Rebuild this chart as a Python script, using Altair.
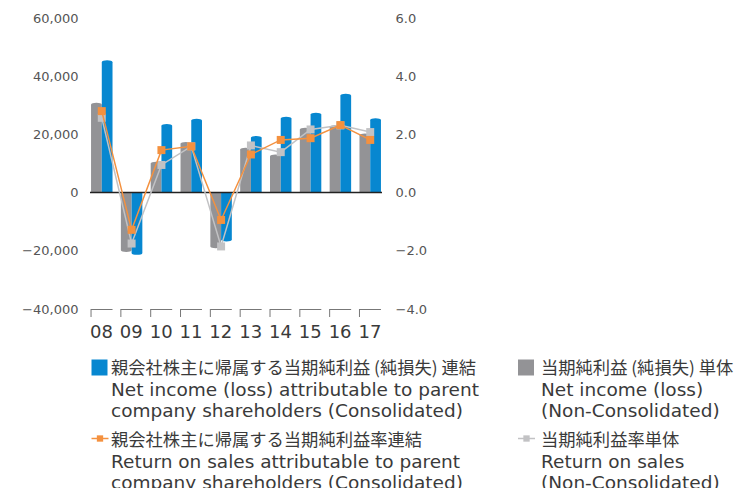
import altair as alt
import pandas as pd

# ---- data ----
years = ["08", "09", "10", "11", "12", "13", "14", "15", "16", "17"]
consolidated_income = [44900, -20800, 23000, 24800, -16200, 18900, 25500, 26900, 33400, 25000]
nonconsolidated_income = [30300, -19800, 10050, 16800, -18500, 14850, 12550, 21700, 22600, 19750]
consolidated_ros = [2.80, -1.28, 1.46, 1.59, -0.94, 1.31, 1.81, 1.87, 2.32, 1.81]
nonconsolidated_ros = [2.57, -1.75, 0.95, 1.59, -1.85, 1.62, 1.39, 2.17, 2.31, 2.08]
left_ticks = [-40000, -20000, 0, 20000, 40000, 60000]
right_ticks = [-4, -2, 0, 2, 4, 6]
series_bar = ["Non-Consolidated", "Consolidated"]

legend_jp = [
    "親会社株主に帰属する当期純利益 (純損失) 連結",
    "親会社株主に帰属する当期純利益率連結",
    "当期純利益 (純損失) 単体",
    "当期純利益率単体",
]
legend_en = [
    "Net income (loss) attributable to parent\ncompany shareholders (Consolidated)",
    "Return on sales attributable to parent\ncompany shareholders (Consolidated)",
    "Net income (loss)\n(Non-Consolidated)",
    "Return on sales\n(Non-Consolidated)",
]

BLUE = "#0787d0"
BLUE_CAP = "#45a8e0"
GRAY = "#939396"
GRAY_CAP = "#aeaeb0"
ORANGE = "#f4913f"
LGRAY = "#c2c2c4"
TXT = "#3a3a3a"
LBL = "#555555"
EN_FONT = "DejaVu Sans"
JP_FONT = "Noto Sans CJK JP"

bars_df = pd.DataFrame({
    "year": years * 2,
    "series": [series_bar[0]] * len(years) + [series_bar[1]] * len(years),
    "value": nonconsolidated_income + consolidated_income,
})
cons_df = pd.DataFrame({"year": years, "value": consolidated_ros})
non_df = pd.DataFrame({"year": years, "value": nonconsolidated_ros})
year_df = pd.DataFrame({"year": years})

xscale = alt.Scale(paddingInner=0.28, paddingOuter=0.035)
ros_scale = dict(domain=[-4, 6], nice=False, zero=False)
income_scale = alt.Scale(domain=[-40000, 60000], nice=False, zero=False)


def xenc(bp=None):
    if bp is None:
        return alt.X("year:N", sort=years, axis=None, scale=xscale)
    return alt.X("year:N", sort=years, axis=None, scale=xscale, bandPosition=bp)


xoff = alt.XOffset("series:N", sort=series_bar,
                   scale=alt.Scale(paddingInner=0, paddingOuter=0))

bars = alt.Chart(bars_df).mark_bar().encode(
    x=xenc(),
    xOffset=xoff,
    y=alt.Y("value:Q", scale=income_scale,
            axis=alt.Axis(values=left_ticks, format=",.0f", domain=False, ticks=False,
                          grid=False, labelFontSize=13, labelFont=EN_FONT,
                          labelColor=LBL, labelPadding=12, title=None)),
    color=alt.Color("series:N", scale=alt.Scale(domain=series_bar, range=[GRAY, BLUE]),
                    legend=None),
)

ELLIPSE = "M-1,0 A1,0.32 0 1,0 1,0 A1,0.32 0 1,0 -1,0 Z"
caps = alt.Chart(bars_df).mark_point(
    shape=ELLIPSE, size=112, filled=True, opacity=1, strokeWidth=0
).encode(
    x=xenc(),
    xOffset=xoff,
    y=alt.Y("value:Q", scale=income_scale, axis=None),
    color=alt.Color("series:N",
                    scale=alt.Scale(domain=series_bar, range=[GRAY_CAP, BLUE_CAP]),
                    legend=None),
)

zero = alt.Chart(pd.DataFrame({"v": [0]})).mark_rule(color="#222222", strokeWidth=1.5).encode(
    y=alt.Y("v:Q", scale=alt.Scale(**ros_scale), axis=None)
)

bracket_h = alt.Chart(year_df).mark_bar(color="#777777").encode(
    x=xenc(), y=alt.value(291), y2=alt.value(292)
)
bracket_v = alt.Chart(year_df).mark_rule(color="#777777", strokeWidth=1).encode(
    x=xenc(0), y=alt.value(291), y2=alt.value(299)
)
xlabels = alt.Chart(year_df).mark_text(
    align="left", baseline="alphabetic", font=EN_FONT, fontSize=18, color=TXT, dx=-1
).encode(x=xenc(0), y=alt.value(320), text="year:N")

pt = dict(shape="square", size=64, filled=True, opacity=1)
line_non = alt.Chart(non_df).mark_line(
    color=LGRAY, strokeWidth=1.5, point=alt.OverlayMarkDef(color=LGRAY, **pt)
).encode(
    x=xenc(),
    y=alt.Y("value:Q", scale=alt.Scale(**ros_scale),
            axis=alt.Axis(orient="right", values=right_ticks, format=".1f",
                          domain=False, ticks=False, grid=False, labelFontSize=13,
                          labelFont=EN_FONT, labelColor=LBL, labelPadding=13,
                          title=None)),
)
line_con = alt.Chart(cons_df).mark_line(
    color=ORANGE, strokeWidth=1.5, point=alt.OverlayMarkDef(color=ORANGE, **pt)
).encode(
    x=xenc(),
    y=alt.Y("value:Q", scale=alt.Scale(**ros_scale), axis=None),
)

# ---- legend (drawn manually) ----
one = pd.DataFrame({"k": [0]})


def swatch(x0, y0, color):
    return alt.Chart(one).mark_rect(color=color).encode(
        x=alt.value(x0), x2=alt.value(x0 + 16), y=alt.value(y0), y2=alt.value(y0 + 16)
    )


def line_swatch(x0, y0, color):
    ln = alt.Chart(one).mark_rule(color=color, strokeWidth=1.5).encode(
        x=alt.value(x0), x2=alt.value(x0 + 17), y=alt.value(y0)
    )
    sq = alt.Chart(one).mark_point(shape="square", size=40, filled=True, opacity=1,
                                   color=color).encode(
        x=alt.value(x0 + 8.5), y=alt.value(y0)
    )
    return [ln, sq]


def legend_text(i, x0, y_jp):
    jp = alt.Chart(pd.DataFrame({"t": [legend_jp[i]]})).mark_text(
        align="left", baseline="alphabetic", font=JP_FONT, fontSize=17.3, color=TXT
    ).encode(x=alt.value(x0), y=alt.value(y_jp), text="t:N")
    en = alt.Chart(pd.DataFrame({"t": [legend_en[i]]})).mark_text(
        align="left", baseline="alphabetic", font=EN_FONT, fontSize=18.5, color=TXT,
        lineBreak="\n", lineHeight=21
    ).encode(x=alt.value(x0), y=alt.value(y_jp + 21.5), text="t:N")
    return [jp, en]


legend_layers = (
    [swatch(1.5, 341.5, BLUE)] + legend_text(0, 21, 356)
    + line_swatch(1.5, 420.5, ORANGE) + legend_text(1, 21, 428)
    + [swatch(428, 341.5, GRAY)] + legend_text(2, 451, 356)
    + line_swatch(428, 420.5, LGRAY) + legend_text(3, 451, 428)
)

chart = alt.layer(
    bars, caps, zero, bracket_h, bracket_v, xlabels, line_non, line_con, *legend_layers
).resolve_scale(
    y="independent"
).properties(
    width=292,
    height=291,
    autosize=alt.AutoSizeParams(type="none"),
    padding={"left": 82, "top": 10, "right": 354, "bottom": 179},
    background="white",
).configure_view(stroke=None)

chart.save("out.html", embed_options={"renderer": "svg", "actions": False})
